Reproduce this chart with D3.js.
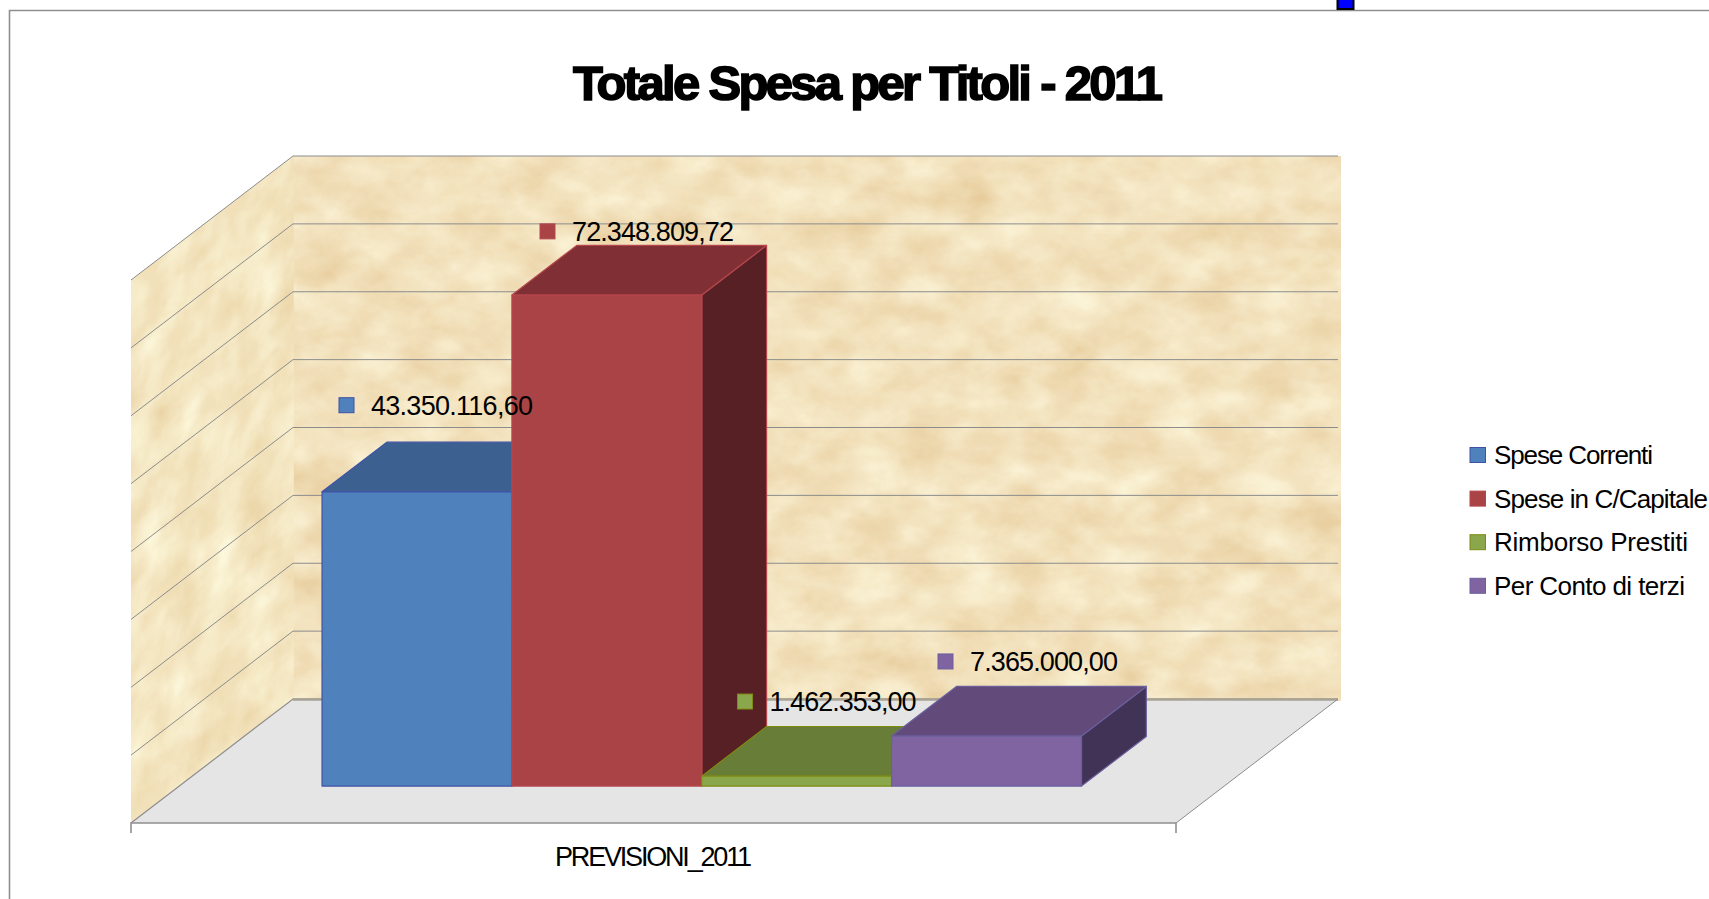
<!DOCTYPE html>
<html><head><meta charset="utf-8">
<script src="https://cdn.jsdelivr.net/npm/d3@7"></script>
<style>html,body{margin:0;padding:0;background:#fff;overflow:hidden}svg{display:block}text{font-family:"Liberation Sans",Arial,sans-serif;fill:#000}</style>
</head><body>
<svg id="c" width="1709" height="899"></svg>
<script>
const titleText = "Totale Spesa per Titoli - 2011";
const categories = ["PREVISIONI_2011"];
const seriesNames = ["Spese Correnti","Spese in C/Capitale","Rimborso Prestiti","Per Conto di terzi"];
const seriesValues = [43350116.60, 72348809.72, 1462353.00, 7365000.00];
const valueTicks = [0,10e6,20e6,30e6,40e6,50e6,60e6,70e6,80e6];
const frontColors = ["#4f81bd","#aa4346","#8aa84b","#8064a2"];
const topColors   = ["#3c6191","#803035","#677d38","#624b7a"];
const sideColors  = ["#2a4564","#572024","#4c5c28","#413355"];
const edgeColors  = ["#3f51a6","#b5474c","#7f8a12","#6a5f9e"];

// layout of the drawing
const floorFrontY = 823, wallH = 543, depthX = 162, depthY = 124;
const frontLeft = 131, frontRight = 1176;
const barD0 = 0.298, barD1 = 0.698;
const labelWidths = [162,162,147,148];
const labelLeft = [339,540,737.5,938];        // marker left edge
const labelRise = [37,14,25,25];              // above the back edge of the bar top
const legendWidths = [159,214,194,191];

const fmt = d3.formatLocale({decimal:",",thousands:".",grouping:[3],currency:["","€"]}).format(",.2f");

const y = d3.scaleLinear().domain([0,80e6]).range([0,wallH]);
const xCat = d3.scaleBand().domain(categories).range([frontLeft,frontRight]).paddingInner(0).paddingOuter(0.188);
const xSer = d3.scaleBand().domain(seriesNames).range([xCat(categories[0]), xCat(categories[0])+xCat.bandwidth()]);
const P = (x,d,v)=>[x+d*depthX, floorFrontY-y(v)-d*depthY];
const poly = pts=>pts.map(p=>p.join(",")).join(" ");

const svg = d3.select("#c");
const defs = svg.append("defs");
function tex(id,fx,fy,seed,off){
  const f = defs.append("filter").attr("id",id).attr("x","0").attr("y","0").attr("width","1").attr("height","1")
    .attr("color-interpolation-filters","sRGB");
  f.append("feTurbulence").attr("type","fractalNoise").attr("baseFrequency",fx+" "+fy).attr("numOctaves",6).attr("seed",seed).attr("result","n");
  f.append("feColorMatrix").attr("in","n").attr("type","matrix").attr("values",
    `0.07 0 0.05 0 ${off[0]}  0.14 0 0.10 0 ${off[1]}  0.20 0 0.16 0 ${off[2]}  0 0 0 0 1`);
}
tex("wallTex",0.02,0.028,7,[0.89,0.765,0.56]);
tex("sideTex",0.028,0.022,3,[0.895,0.78,0.575]);

// frame
svg.append("path").attr("d","M9.5,899V10.5H1709").attr("fill","none").attr("stroke","#8f8f8f").attr("stroke-width",1.6);
svg.append("rect").attr("x",1337.5).attr("y",-2).attr("width",16).attr("height",11).attr("fill","#0000ff").attr("stroke","#000").attr("stroke-width",2);

// walls
const wallTop = P(frontLeft,1,80e6)[1], wallBot = P(frontLeft,1,0)[1];
svg.append("rect").attr("x",P(frontLeft,1,0)[0]).attr("y",wallTop).attr("width",1341-P(frontLeft,1,0)[0]).attr("height",wallBot-wallTop+2).attr("fill","#f3dfb8").attr("filter","url(#wallTex)");
svg.append("g").attr("transform",`matrix(1,${-depthY/depthX},0,1,${frontLeft},${floorFrontY})`)
  .append("rect").attr("x",0).attr("y",-wallH).attr("width",depthX).attr("height",wallH).attr("fill","#f3dfb8").attr("filter","url(#sideTex)");

// floor
svg.append("polygon").attr("fill","#e5e5e5").attr("points",poly([P(frontLeft,0,0),P(frontLeft,1,0),P(frontRight,1,0),P(frontRight,0,0)]));

// gridlines
const grid = svg.append("g").attr("fill","none").attr("stroke","#8c8c8c");
valueTicks.forEach(v=>{
  grid.append("polyline").attr("stroke-width",v===0?1.2:1)
    .attr("points",poly([P(frontLeft,0,v),P(frontLeft,1,v),P(frontRight,1,v)]));
});
grid.append("line").attr("x1",P(frontLeft,1,0)[0]).attr("x2",P(frontRight,1,0)[0]).attr("y1",wallBot+.5).attr("y2",wallBot+.5).attr("stroke","#a8a294").attr("stroke-width",2.5);
grid.append("line").attr("x1",P(frontRight,1,0)[0]).attr("y1",wallBot).attr("x2",frontRight).attr("y2",floorFrontY);

// axis
const axis = svg.append("g").attr("transform",`translate(0,${floorFrontY})`).call(d3.axisBottom(xCat).tickSize(0));
axis.select(".domain").attr("stroke","#8f8f8f").attr("stroke-width",1.6).attr("d",`M${frontLeft},10V0H${frontRight}V10`);
axis.selectAll("text").attr("font-family",'"Liberation Sans",Arial,sans-serif').attr("font-size",27).attr("y",0).attr("dy",43)
  .attr("textLength",197).attr("lengthAdjust","spacing").attr("fill","#000");

// bars
seriesNames.forEach((s,i)=>{
  const x0 = xSer(s), x1 = x0+xSer.bandwidth(), v = seriesValues[i];
  const g = svg.append("g").attr("stroke",edgeColors[i]).attr("stroke-width",1.2).attr("stroke-linejoin","round");
  g.append("polygon").attr("fill",sideColors[i]).attr("points",poly([P(x1,barD0,0),P(x1,barD1,0),P(x1,barD1,v),P(x1,barD0,v)]));
  g.append("polygon").attr("fill",topColors[i]).attr("points",poly([P(x0,barD0,v),P(x0,barD1,v),P(x1,barD1,v),P(x1,barD0,v)]));
  g.append("polygon").attr("fill",frontColors[i]).attr("points",poly([P(x0,barD0,0),P(x0,barD0,v),P(x1,barD0,v),P(x1,barD0,0)]));
});

// data labels
seriesNames.forEach((s,i)=>{
  const cy = P(0,barD1,seriesValues[i])[1]-labelRise[i];
  svg.append("rect").attr("x",labelLeft[i]).attr("y",cy-7.5).attr("width",15).attr("height",15)
    .attr("fill",frontColors[i]).attr("stroke",edgeColors[i]).attr("stroke-width",1);
  svg.append("text").attr("x",labelLeft[i]+32).attr("y",cy+9.5).attr("font-size",27)
    .attr("textLength",labelWidths[i]).attr("lengthAdjust","spacing").text(fmt(seriesValues[i]));
});

// title
svg.append("text").attr("x",573).attr("y",100).attr("font-size",49).attr("font-weight","bold")
  .style("stroke","#000").style("stroke-width",1.6)
  .attr("textLength",590).attr("lengthAdjust","spacing").text(titleText);

// legend
seriesNames.forEach((s,i)=>{
  const cy = 455+i*43.6;
  svg.append("rect").attr("x",1470).attr("y",cy-7.5).attr("width",15.5).attr("height",15)
    .attr("fill",frontColors[i]).attr("stroke",edgeColors[i]).attr("stroke-width",1);
  svg.append("text").attr("x",1494).attr("y",cy+9).attr("font-size",26)
    .attr("textLength",legendWidths[i]).attr("lengthAdjust","spacing").text(s);
});
</script>
</body></html>
